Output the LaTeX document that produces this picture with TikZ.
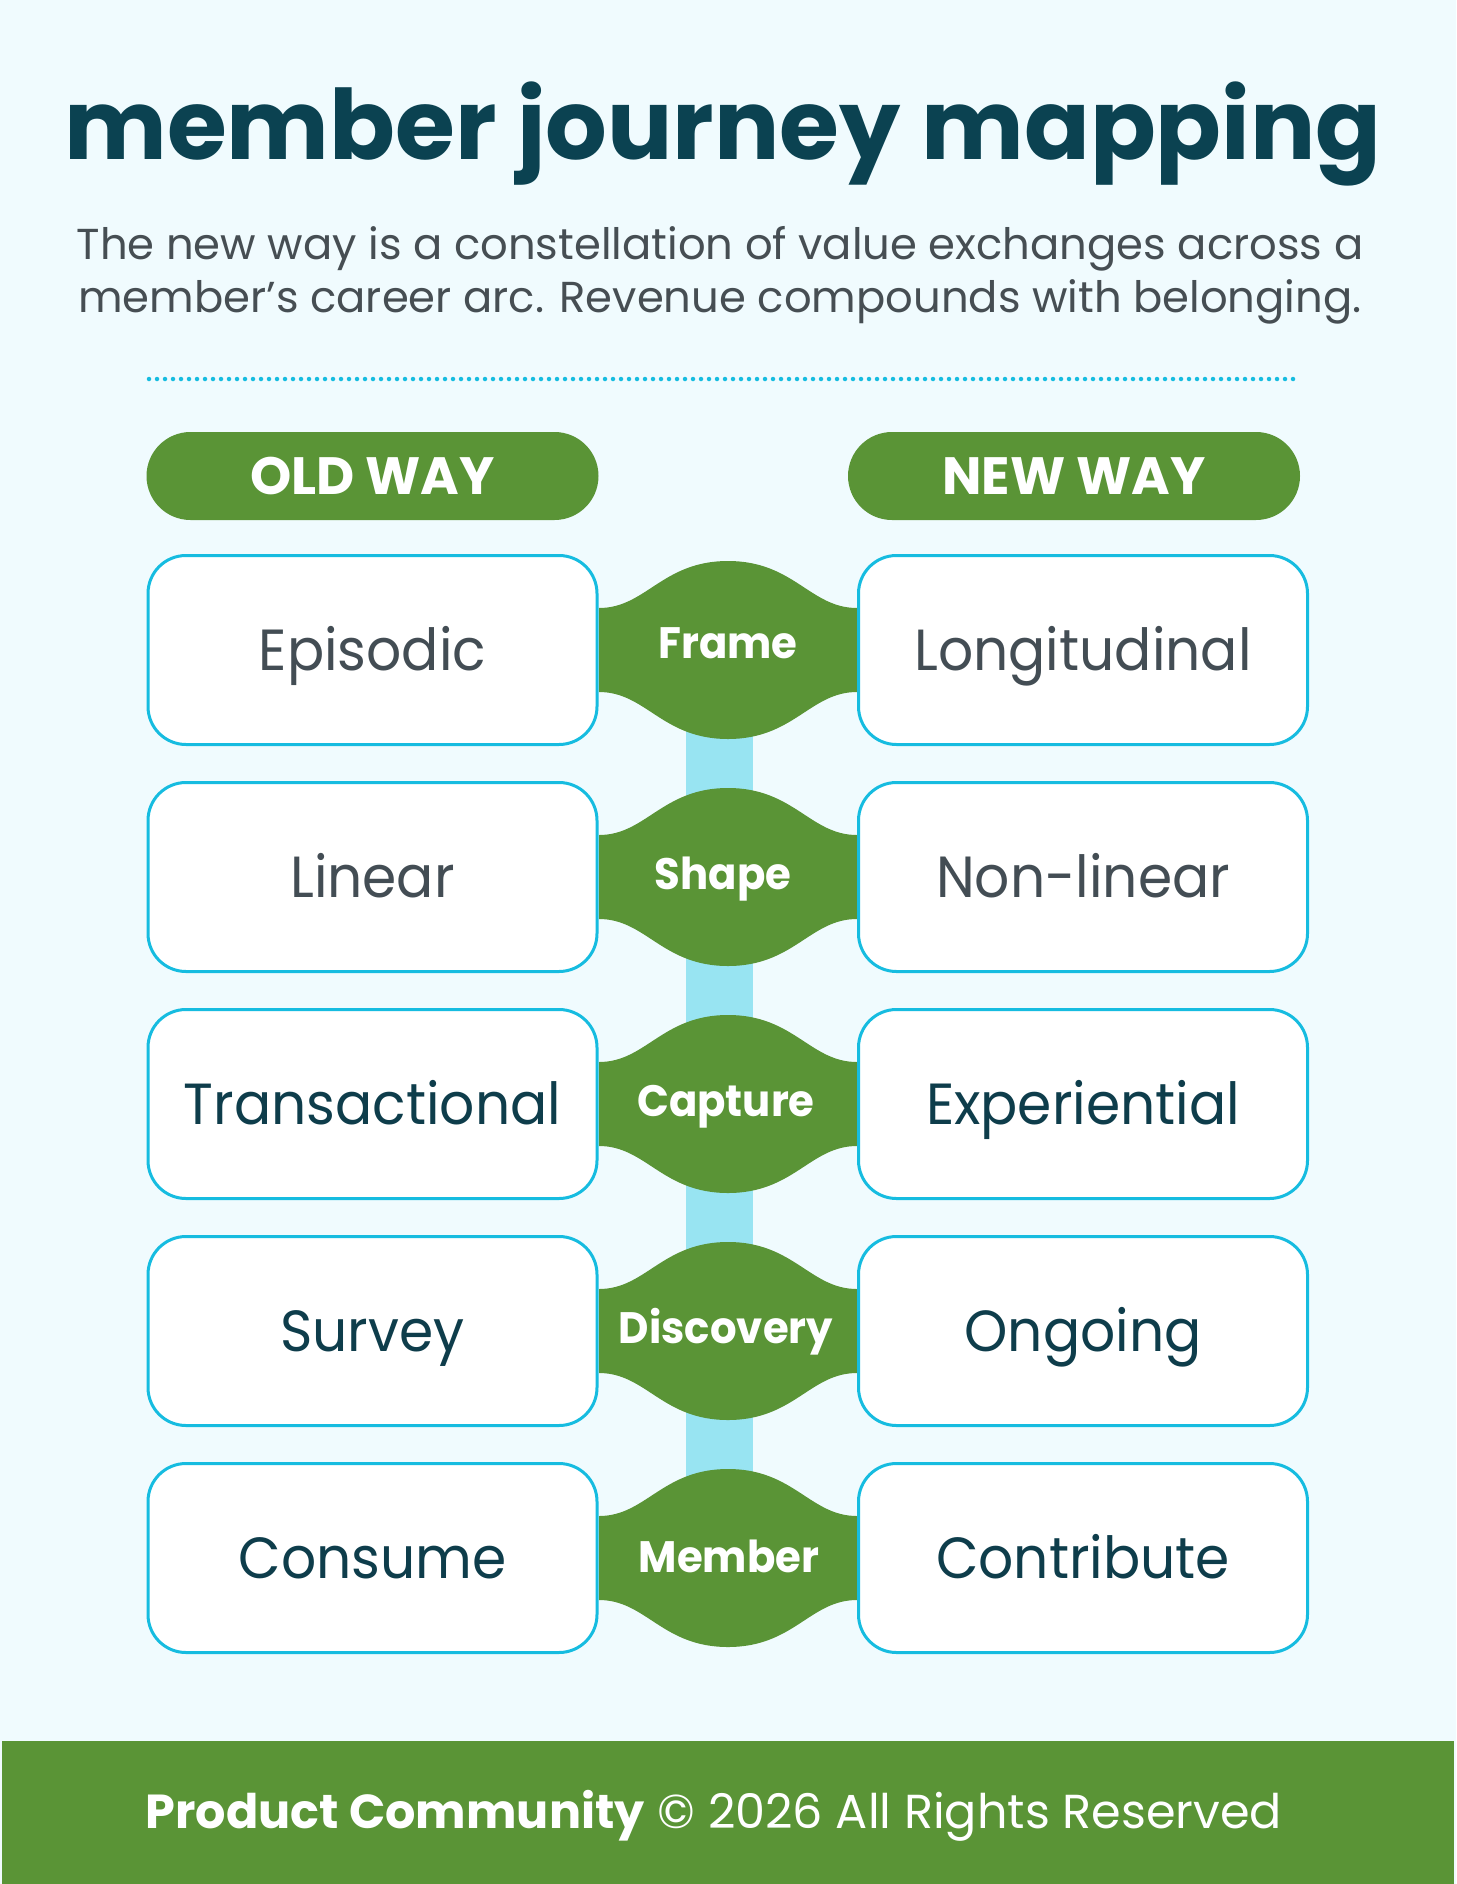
\documentclass[tikz,border=0pt]{standalone}
\usepackage{fontspec}
\setmainfont{Poppins}
\newfontfamily\narrowpop{Poppins}[FakeStretch=0.95]
\definecolor{bgc}{HTML}{F0FBFE}
\definecolor{grn}{HTML}{5A9436}
\definecolor{cyb}{HTML}{16BCE0}
\definecolor{barc}{HTML}{98E4F2}
\definecolor{ttl}{HTML}{0B4251}
\definecolor{dtxt}{HTML}{0E3D4B}
\definecolor{gtxt}{HTML}{434D54}
\definecolor{stxt}{HTML}{464E53}
\tikzset{
  pill/.style={fill=grn, rounded corners=44, minimum width=452, minimum height=88,
    text=white, font=\fontsize{52.5}{56}\selectfont\bfseries, inner sep=0},
  card/.style={draw=cyb, line width=3, fill=white, rounded corners=38,
    minimum width=449, minimum height=189, inner sep=0,
    font=\narrowpop\fontsize{58}{62}\selectfont, text height=41, text depth=0},
  dk/.style={text=dtxt},
  gr/.style={text=gtxt},
  blabel/.style={text=white, font=\narrowpop\fontsize{44}{48}\selectfont\bfseries,
    text height=31, text depth=0, inner sep=0},
  bar/.style={draw=barc, line width=67},
}
\newcommand{\blobat}[1]{%
  \fill[grn] (599,#1-42) .. controls (646,#1-42) and (662,#1-89) .. (728,#1-89)
    .. controls (794,#1-89) and (810,#1-42) .. (857,#1-42)
    -- (857,#1+42) .. controls (810,#1+42) and (794,#1+89) .. (728,#1+89)
    .. controls (662,#1+89) and (646,#1+42) .. (599,#1+42) -- cycle;}
\begin{document}
\begin{tikzpicture}[x=1pt,y=-1pt]
\fill[bgc] (0,0) rectangle (1456,1884);
\useasboundingbox (0,0) rectangle (1456,1884);
% title
\node[anchor=base, text=ttl, font=\fontsize{97}{100}\selectfont\bfseries, inner sep=0] (title) at (723,159) {member journey mapping};
\node[anchor=base, text=stxt, font=\fontsize{43.3}{53}\selectfont, inner sep=0] (sub1) at (720,259) {The new way is a constellation of value exchanges across a};
\node[anchor=base, text=stxt, font=\fontsize{43.3}{53}\selectfont, inner sep=0] (sub2) at (720,312) {member’s career arc. Revenue compounds with belonging.};
% dotted rule
\coordinate (dl) at (149,379);
\coordinate (dr) at (1298,379);
\draw[cyb, line width=4.5, line cap=round, dash pattern=on 0pt off 8pt] (dl) -- (dr);
% headers
\node[pill] (old) at (372.5,476) {OLD WAY};
\node[pill] (new) at (1074,476) {NEW WAY};
% central bar
\coordinate (bartop) at (719.5,650);
\coordinate (barbot) at (719.5,1558);
\draw[bar] (bartop) -- (barbot);
% blobs
\blobat{650}
\blobat{877}
\blobat{1104}
\blobat{1331}
\blobat{1558}
% cards
\node[card, gr] (l1) at (372.5,650) {Episodic};
\node[card, gr] (r1) at (1083,650) {Longitudinal};
\node[card, gr] (l2) at (372.5,877) {Linear};
\node[card, gr] (r2) at (1083,877) {Non-linear};
\node[card, dk] (l3) at (372.5,1104) {Transactional};
\node[card, dk] (r3) at (1083,1104) {Experiential};
\node[card, dk] (l4) at (372.5,1331) {Survey};
\node[card, dk] (r4) at (1083,1331) {Ongoing};
\node[card, dk] (l5) at (372.5,1558) {Consume};
\node[card, dk] (r5) at (1083,1558) {Contribute};
% blob labels
\node[blabel] (b1) at (728,643) {Frame};
\node[blabel] (b2) at (723,874) {Shape};
\node[blabel] (b3) at (726,1101) {Capture};
\node[blabel] (b4) at (726,1328) {Discovery};
\node[blabel] (b5) at (729,1557) {Member};
% footer
\fill[grn] (2,1741) rectangle (1454,1884);
\node[anchor=base, text=white, font=\fontsize{47.7}{52}\selectfont, inner sep=0] (foot) at (714,1828) {\textbf{Product Community} © 2026 All Rights Reserved};
\end{tikzpicture}
\end{document}
